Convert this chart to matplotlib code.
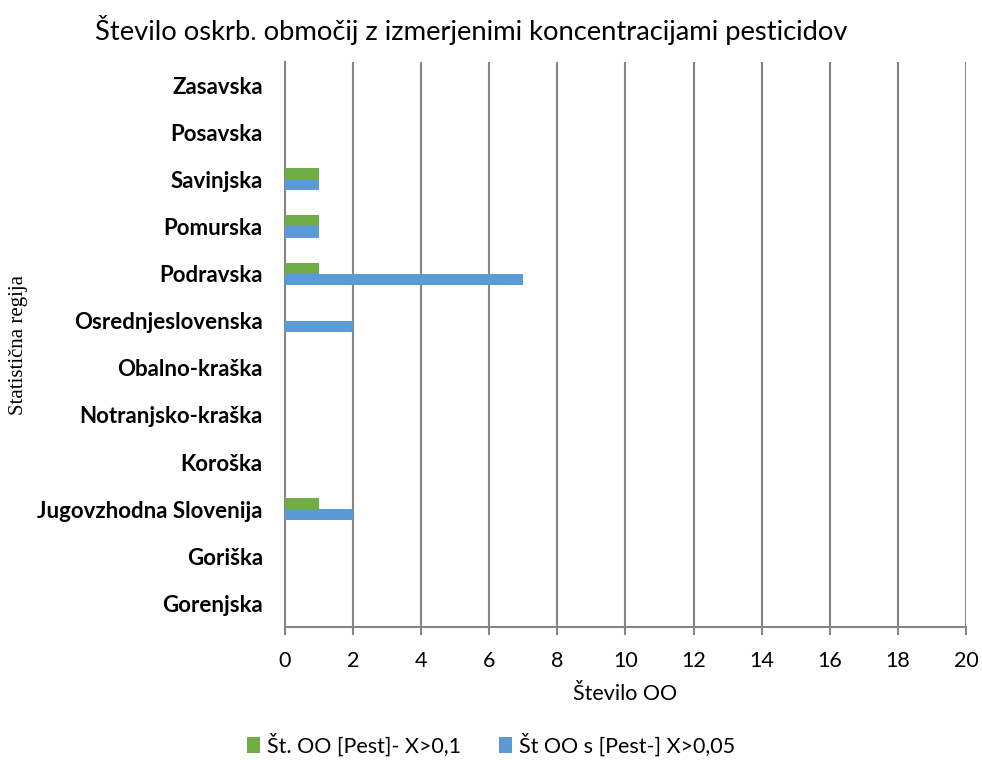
import matplotlib.pyplot as plt
import numpy as np

regions = ["Gorenjska", "Goriška", "Jugovzhodna Slovenija", "Koroška",
           "Notranjsko-kraška", "Obalno-kraška", "Osrednjeslovenska",
           "Podravska", "Pomurska", "Savinjska", "Posavska", "Zasavska"]
green_vals = [0, 0, 1, 0, 0, 0, 0, 1, 1, 1, 0, 0]
blue_vals = [0, 0, 2, 0, 0, 0, 2, 7, 1, 1, 0, 0]
green_label = "Št. OO [Pest]- X>0,1"
blue_label = "Št OO s [Pest-] X>0,05"

plt.rcParams['font.family'] = ['Lato', 'DejaVu Sans']

fig = plt.figure(figsize=(9.82, 7.6), dpi=100)
ax = fig.add_axes([0.2902, 0.175, 0.6935, 0.744])

y = np.arange(len(regions))
h = 0.235
ax.barh(y + h / 2, green_vals, height=h, color="#70AD47", label=green_label, zorder=3)
ax.barh(y - h / 2, blue_vals, height=h, color="#5B9BD5", label=blue_label, zorder=3)

ax.set_xlim(0, 20)
ax.set_ylim(-0.5, len(regions) - 0.5)
ax.set_xticks(range(0, 21, 2))
ax.set_yticks(y)
ax.set_yticklabels(regions, fontsize=16, fontweight="bold")
ax.tick_params(axis="y", length=0, pad=16)
ax.tick_params(axis="x", labelsize=15.5, length=6, width=1.5, color="#868686", pad=11)
ax.grid(axis="x", color="#868686", linewidth=1.5, zorder=0)
for s in ["top", "right"]:
    ax.spines[s].set_visible(False)
for s in ["left", "bottom"]:
    ax.spines[s].set_color("#868686")
    ax.spines[s].set_linewidth(1.5)

ax.set_xlabel("Število OO", fontsize=15.5, labelpad=10)
fig.text(0.019, 0.546, "Statistična regija", rotation=90, ha="center", va="center",
         fontsize=15, family=["Liberation Serif", "DejaVu Serif"])

fig.text(0.48, 0.96, "Število oskrb. območij z izmerjenimi koncentracijami pesticidov",
         ha="center", va="center", fontsize=19.7)

fig.legend(loc="center", bbox_to_anchor=(0.5, 0.02), ncol=2, frameon=False,
           fontsize=15.5, handlelength=0.6, handleheight=0.8, columnspacing=1.8, handletextpad=0.3)

fig.savefig("out.png", dpi=100)
